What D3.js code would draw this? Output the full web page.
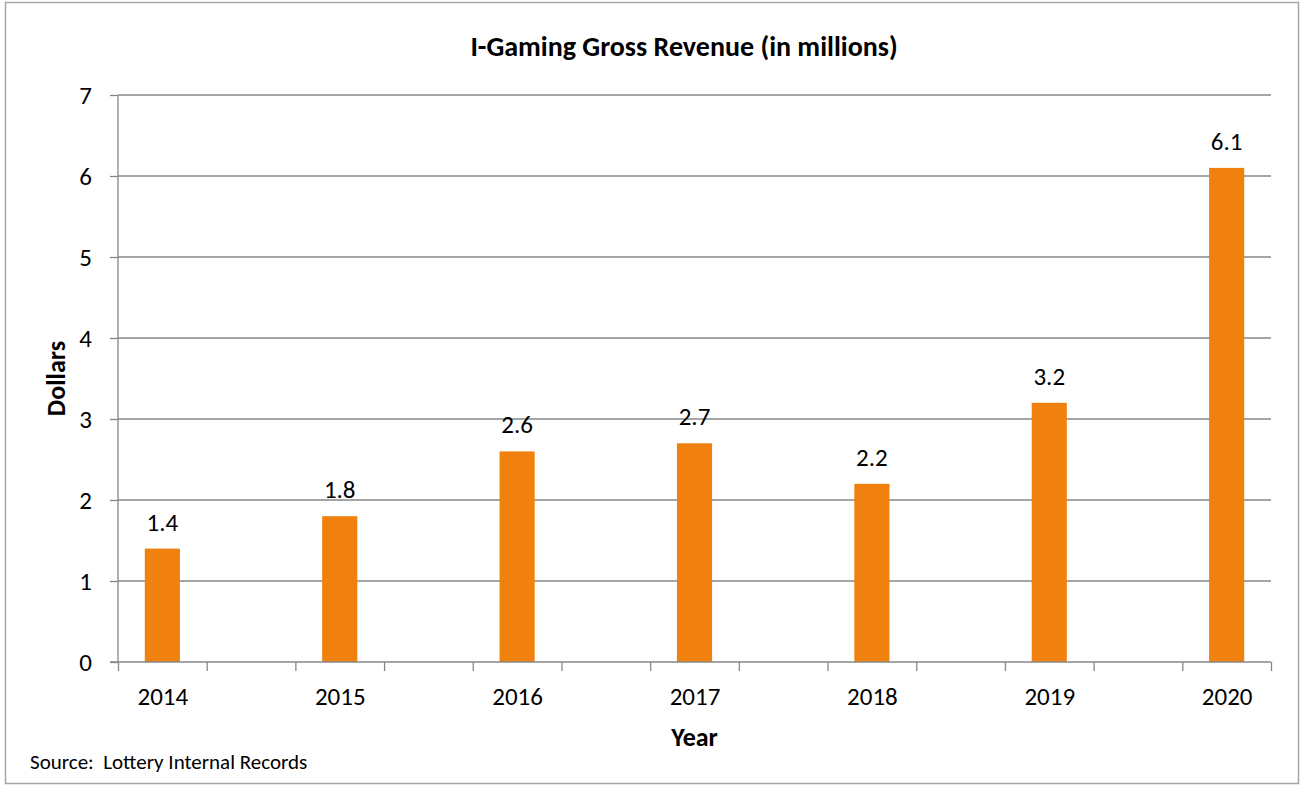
<!DOCTYPE html>
<html>
<head>
<meta charset="utf-8">
<script src="https://d3js.org/d3.v7.min.js"></script>
<style>
  body { margin: 0; background: #ffffff; }
  svg text { font-family: Carlito, Calibri, Lato, sans-serif; fill: #000; }
</style>
</head>
<body>
<div id="chart"></div>
<script>
// Data
const years = ["2014", "2015", "2016", "2017", "2018", "2019", "2020"];
const revenue = [1.4, 1.8, 2.6, 2.7, 2.2, 3.2, 6.1];
const yTicks = [0, 1, 2, 3, 4, 5, 6, 7];

const title = "I-Gaming Gross Revenue (in millions)";
const yTitle = "Dollars";
const xTitle = "Year";
const source = "Source:  Lottery Internal Records";

const width = 1303;
const height = 786;
const plot = { left: 118, right: 1271, top: 95, bottom: 662 };

const dataset = years.map((y, i) => ({ year: y, value: revenue[i], idx: i }));

const svg = d3.select("#chart")
    .append("svg")
    .attr("width", width)
    .attr("height", height);

// outer frame
svg.append("rect")
    .attr("x", 5.5)
    .attr("y", 2.5)
    .attr("width", 1293)
    .attr("height", 781)
    .attr("fill", "#fff")
    .attr("stroke", "#a6a6a6")
    .attr("stroke-width", 1.5);

// scales: category index, axis has ticks every half category (Excel style)
const xScale = d3.scaleLinear()
    .domain([-0.25, years.length - 0.75])
    .range([plot.left, plot.right]);

const yScale = d3.scaleLinear()
    .domain([0, 7])
    .range([plot.bottom, plot.top]);

const barHalf = 0.099;

// gridlines + y axis
const yAxis = d3.axisLeft(yScale)
    .tickValues(yTicks)
    .tickSize(8)
    .tickPadding(18)
    .tickFormat(d3.format("d"));

svg.append("g")
    .attr("class", "grid")
    .selectAll("line")
    .data(yTicks.filter(d => d > 0))
    .enter()
    .append("line")
    .attr("x1", plot.left)
    .attr("x2", plot.right)
    .attr("y1", d => yScale(d))
    .attr("y2", d => yScale(d))
    .attr("stroke", "#878787")
    .attr("stroke-width", 1.3);

const gy = svg.append("g")
    .attr("id", "y-axis")
    .attr("transform", `translate(${plot.left}, 0)`)
    .call(yAxis);
gy.select(".domain").attr("stroke", "#878787").attr("stroke-width", 1.3).attr("d", `M0,${plot.top}V${plot.bottom}`);
gy.selectAll(".tick line").attr("stroke", "#878787").attr("stroke-width", 1.3);
gy.selectAll(".tick text").attr("font-size", "25px");

// bars
svg.append("g")
    .selectAll("rect")
    .data(dataset)
    .enter()
    .append("rect")
    .attr("class", "bar")
    .attr("x", d => xScale(d.idx - barHalf))
    .attr("y", d => yScale(d.value))
    .attr("width", d => xScale(d.idx + barHalf) - xScale(d.idx - barHalf))
    .attr("height", d => yScale(0) - yScale(d.value))
    .attr("fill", "#f0810e");

// value labels
svg.append("g")
    .selectAll("text")
    .data(dataset)
    .enter()
    .append("text")
    .attr("class", "label")
    .attr("x", d => xScale(d.idx))
    .attr("y", d => yScale(d.value) - 18)
    .attr("text-anchor", "middle")
    .attr("font-size", "25px")
    .text(d => d.value.toFixed(1));

// x axis: tick marks every half category
const xTickVals = d3.range(years.length * 2).map(k => -0.25 + k * 0.5);
const xAxis = d3.axisBottom(xScale)
    .tickValues(xTickVals)
    .tickSize(9)
    .tickSizeOuter(0)
    .tickFormat("");

const gx = svg.append("g")
    .attr("id", "x-axis")
    .attr("transform", `translate(0, ${plot.bottom})`)
    .call(xAxis);
gx.select(".domain").attr("stroke", "#878787").attr("stroke-width", 1.3).attr("d", `M${plot.left - 8},0H${plot.right}`);
gx.selectAll(".tick line").attr("stroke", "#878787").attr("stroke-width", 1.3);

// year labels
const xLabels = d3.axisBottom(xScale)
    .tickValues(d3.range(years.length))
    .tickSize(0)
    .tickPadding(25)
    .tickFormat(i => years[i]);

const gl = svg.append("g")
    .attr("transform", `translate(0, ${plot.bottom})`)
    .call(xLabels);
gl.select(".domain").remove();
gl.selectAll(".tick text").attr("font-size", "25px");

// titles
svg.append("text")
    .attr("x", 684)
    .attr("y", 56)
    .attr("text-anchor", "middle")
    .attr("font-size", "28px")
    .attr("font-weight", "bold")
    .text(title);

svg.append("text")
    .attr("transform", `translate(65, ${(plot.top + plot.bottom) / 2}) rotate(-90)`)
    .attr("text-anchor", "middle")
    .attr("font-size", "26px")
    .attr("font-weight", "bold")
    .text(yTitle);

svg.append("text")
    .attr("x", (plot.left + plot.right) / 2)
    .attr("y", 746)
    .attr("text-anchor", "middle")
    .attr("font-size", "26px")
    .attr("font-weight", "bold")
    .text(xTitle);

svg.append("text")
    .attr("x", 30)
    .attr("y", 769)
    .attr("font-size", "21px")
    .style("white-space", "pre")
    .text(source);
</script>
</body>
</html>
